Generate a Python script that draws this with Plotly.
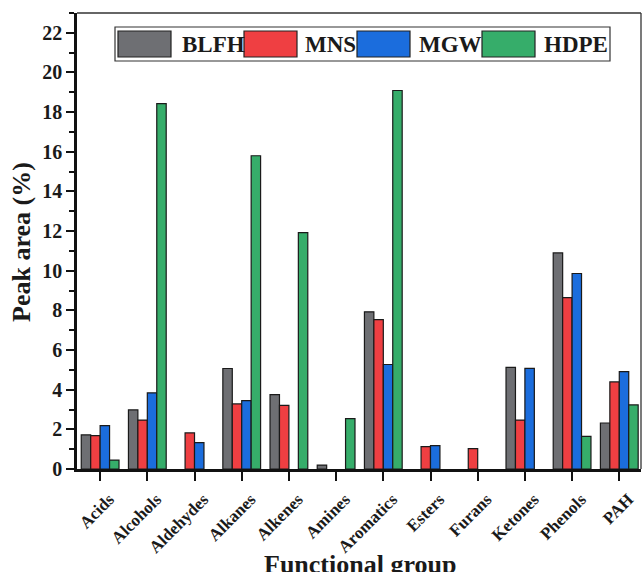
import plotly.graph_objects as go

categories = ["Acids", "Alcohols", "Aldehydes", "Alkanes", "Alkenes", "Amines",
              "Aromatics", "Esters", "Furans", "Ketones", "Phenols", "PAH"]
series_names = ["BLFH", "MNS", "MGW", "HDPE"]
blfh = [1.72, 2.98, None, 5.07, 3.75, 0.20, 7.93, None, None, 5.13, 10.90, 2.32]
mns = [1.68, 2.47, 1.82, 3.28, 3.21, None, 7.53, 1.13, 1.03, 2.47, 8.64, 4.39]
mgw = [2.19, 3.84, 1.33, 3.45, None, None, 5.27, 1.18, None, 5.08, 9.86, 4.91]
hdpe = [0.45, 18.43, None, 15.80, 11.92, 2.54, 19.09, None, None, None, 1.65, 3.23]
colors = ["#6e6f73", "#ef3f42", "#1b6ddd", "#36ad6a"]
y_ticks = list(range(0, 23, 2))

FONT = "Times New Roman, Liberation Serif, serif"
W, H = 643, 572
ML, MR, MT, MB = 77, 2, 13, 103

fig = go.Figure()
for name, vals, col in zip(series_names, [blfh, mns, mgw, hdpe], colors):
    fig.add_trace(go.Bar(
        x=categories, y=vals, name=name,
        marker=dict(color=col, line=dict(color="#1a1a1a", width=1.2)),
        showlegend=False,
    ))

fig.update_layout(
    width=W, height=H,
    margin=dict(l=ML, r=MR, t=MT, b=MB),
    paper_bgcolor="white", plot_bgcolor="white",
    barmode="group", bargap=0.2, bargroupgap=0,
    font=dict(family=FONT, color="#1a1a1a"),
)
fig.update_xaxes(
    range=[-0.49, 11.46], automargin=False,
    showline=True, linecolor="#111", linewidth=2.5,
    ticks="outside", ticklen=9, tickwidth=2, tickcolor="#111",
    tickangle=-45, ticklabelshift=9, ticklabelstandoff=2,
    tickfont=dict(family=FONT, size=17, color="#1a1a1a", weight="bold"),
    showgrid=False, zeroline=False,
)
fig.update_yaxes(
    range=[0, 23], automargin=False,
    tickvals=y_ticks,
    showline=True, linecolor="#111", linewidth=2.5,
    ticks="outside", ticklen=8, tickwidth=2, tickcolor="#111",
    minor=dict(dtick=1, tick0=1, ticks="outside", ticklen=5, tickwidth=2, tickcolor="#111", showgrid=False),
    tickfont=dict(family=FONT, size=20, color="#1a1a1a", weight="bold"),
    showgrid=False, zeroline=False,
)

# top and right frame lines
fig.add_shape(type="line", xref="paper", yref="paper", x0=0, x1=1, y0=1, y1=1,
              line=dict(color="#333", width=1.3))
fig.add_shape(type="line", xref="paper", yref="paper", x0=1, x1=1, y0=0, y1=1,
              line=dict(color="#333", width=1.3))

pw = W - ML - MR
ph = H - MT - MB
def px_x(x):
    return (x - ML) / pw
def px_y(y):
    return 1 - (y - MT) / ph

fig.add_annotation(text="<b>Peak area (%)</b>", xref="paper", yref="paper",
                   x=px_x(22), y=px_y(242), textangle=-90, showarrow=False,
                   font=dict(family=FONT, size=26, color="#1a1a1a"),
                   xanchor="center", yanchor="middle")
fig.add_annotation(text="<b>Functional group</b>", xref="paper", yref="paper",
                   x=px_x(360), y=px_y(564), showarrow=False,
                   font=dict(family=FONT, size=26, color="#1a1a1a"),
                   xanchor="center", yanchor="middle")

# custom legend
fig.add_shape(type="rect", xref="paper", yref="paper",
              x0=px_x(115), x1=px_x(610), y0=px_y(61), y1=px_y(27),
              line=dict(color="#333", width=1.2), fillcolor="white")
sw_x = [118, 244, 357, 482]
tx_x = [180, 303, 417, 542]
for name, col, sx, tx in zip(series_names, colors, sw_x, tx_x):
    fig.add_shape(type="rect", xref="paper", yref="paper",
                  x0=px_x(sx), x1=px_x(sx + 53), y0=px_y(57), y1=px_y(31),
                  line=dict(color="#222", width=1.2), fillcolor=col)
    fig.add_annotation(text="<b>" + name + "</b>", xref="paper", yref="paper",
                       x=px_x(tx), y=px_y(44), showarrow=False,
                       xanchor="left", yanchor="middle",
                       font=dict(family=FONT, size=23, color="#1a1a1a"))

fig.write_html("out.html", config={"displayModeBar": False},
               post_script="document.body.style.margin='0';document.body.style.overflow='hidden';")
